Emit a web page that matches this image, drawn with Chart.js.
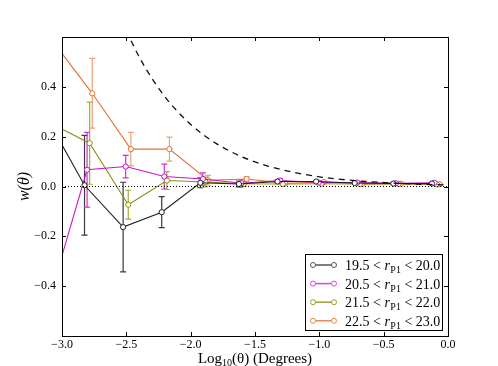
<!DOCTYPE html>
<html lang="en">
  <head>
    <meta charset="UTF-8" />
    <title>w(theta) by magnitude bin</title>
    <script src="https://cdn.jsdelivr.net/npm/chart.js"></script>
    <style>
      body {
        margin: 0;
        background: #fff;
      }
      canvas {
        display: block;
      }
    </style>
  </head>
  <body>
    <canvas id="wtheta" width="498" height="366"></canvas>

    <script>
      // magnitude bins (legend)
      const binLo = ['19.5', '20.5', '21.5', '22.5'];
      const binHi = ['20.0', '21.0', '22.0', '23.0'];

      // log10(theta) positions per bin (bins are offset slightly)
      const xBin1 = [-3.125, -2.825, -2.525, -2.225, -1.925, -1.625, -1.325, -1.025, -0.725, -0.425, -0.125];
      const xBin2 = [-3.105, -2.805, -2.505, -2.205, -1.905, -1.605, -1.305, -1.005, -0.705, -0.405, -0.105];
      const xBin3 = [-3.085, -2.785, -2.485, -2.185, -1.885, -1.585, -1.285, -0.985, -0.685, -0.385, -0.085];
      const xBin4 = [-3.065, -2.765, -2.465, -2.165, -1.865, -1.565, -1.265, -0.965, -0.665, -0.365, -0.065];

      // w(theta) values
      const wBin1 = [0.282, 0.005, -0.163, -0.103, 0.015, 0.01, 0.02, 0.02, 0.014, 0.012, 0.012];
      const wBin2 = [-0.463, 0.067, 0.08, 0.04, 0.03, 0.013, 0.024, 0.016, 0.016, 0.013, 0.015];
      const wBin3 = [0.253, 0.174, -0.073, 0.024, 0.018, 0.011, 0.01, 0.011, 0.01, 0.01, 0.008];
      const wBin4 = [0.578, 0.374, 0.15, 0.15, 0.025, 0.03, 0.013, 0.018, 0.01, 0.011, 0.009];

      // 1-sigma errors
      const eBin1 = [0.2, 0.2, 0.18, 0.062, 0.02, 0.012, 0.006, 0.004, 0.003, 0.003, 0.002];
      const eBin2 = [0.2, 0.15, 0.045, 0.05, 0.025, 0.015, 0.008, 0.005, 0.004, 0.003, 0.002];
      const eBin3 = [0.2, 0.165, 0.058, 0.036, 0.02, 0.01, 0.006, 0.004, 0.003, 0.002, 0.002];
      const eBin4 = [0.2, 0.14, 0.067, 0.048, 0.02, 0.01, 0.006, 0.004, 0.003, 0.002, 0.002];

      // dashed reference curve
      const modelX = [-2.5, -2.4, -2.3, -2.2, -2.1, -2.0, -1.9, -1.8, -1.7, -1.6, -1.5, -1.4, -1.2, -1.0, -0.8, -0.6, -0.4, -0.2, 0.0];
      const modelY = [0.625, 0.52, 0.433, 0.36, 0.3, 0.249, 0.207, 0.172, 0.143, 0.119, 0.099, 0.082, 0.057, 0.039, 0.027, 0.019, 0.013, 0.009, 0.006];

      const xTicks = [-3.0, -2.5, -2.0, -1.5, -1.0, -0.5, 0.0];
      const yTicks = [-0.4, -0.2, 0.0, 0.2, 0.4];

      const lineColors = ['#1e1e1e', '#cc11cc', '#8e8e10', '#e07430'];
      const barColors = ['#3a3a3a', '#d030d0', '#a8a838', '#eea070'];
      const legendColors = ['#555555', '#dd44dd', '#a0a030', '#e88850'];

      const xs = [xBin1, xBin2, xBin3, xBin4];
      const ws = [wBin1, wBin2, wBin3, wBin4];
      const es = [eBin1, eBin2, eBin3, eBin4];

      const pts = (x, y) => x.map((v, i) => ({ x: v, y: y[i] }));
      const SERIF = '"Liberation Serif", "DejaVu Serif", serif';
      const fmt = (v) => v.toFixed(1).replace('-', '\u2212');

      const datasets = [
        {
          data: [{ x: -3, y: 0 }, { x: 0, y: 0 }],
          borderColor: '#000',
          borderWidth: 1,
          borderDash: [1, 2],
          pointRadius: 0,
          showLine: true,
        },
        {
          data: pts(modelX, modelY),
          borderColor: '#111',
          borderWidth: 1.3,
          borderDash: [6, 5],
          pointRadius: 0,
          showLine: true,
          cubicInterpolationMode: 'monotone',
        },
      ];
      xs.forEach((x, k) => {
        datasets.push({
          data: pts(x, ws[k]),
          errors: es[k],
          barColor: barColors[k],
          borderColor: lineColors[k],
          borderWidth: 1.1,
          pointRadius: 2.6,
          pointBorderWidth: 1,
          pointBackgroundColor: '#fff',
          pointBorderColor: lineColors[k],
          showLine: true,
        });
      });

      // vertical error bars with caps
      const errorBars = {
        id: 'errorBars',
        beforeDatasetsDraw(chart) {
          const { ctx, chartArea: a, scales } = chart;
          ctx.save();
          ctx.beginPath();
          ctx.rect(a.left, a.top, a.right - a.left, a.bottom - a.top);
          ctx.clip();
          chart.data.datasets.forEach((ds) => {
            if (!ds.errors) return;
            ctx.strokeStyle = ds.barColor;
            ctx.lineWidth = 1.2;
            ds.data.forEach((p, i) => {
              const px = scales.x.getPixelForValue(p.x);
              const y1 = scales.y.getPixelForValue(p.y + ds.errors[i]);
              const y2 = scales.y.getPixelForValue(p.y - ds.errors[i]);
              ctx.beginPath();
              ctx.moveTo(px, y1);
              ctx.lineTo(px, y2);
              ctx.moveTo(px - 3, y1);
              ctx.lineTo(px + 3, y1);
              ctx.moveTo(px - 3, y2);
              ctx.lineTo(px + 3, y2);
              ctx.stroke();
            });
          });
          ctx.restore();
        },
      };

      // frame, inward ticks, tick labels, axis titles and legend
      const decorations = {
        id: 'decorations',
        afterDraw(chart) {
          const { ctx, chartArea: a, scales } = chart;
          ctx.save();
          ctx.strokeStyle = '#000';
          ctx.lineWidth = 1;
          ctx.strokeRect(a.left + 0.5, a.top + 0.5, a.right - a.left, a.bottom - a.top);

          ctx.beginPath();
          xTicks.forEach((v) => {
            const px = Math.round(scales.x.getPixelForValue(v)) + 0.5;
            ctx.moveTo(px, a.bottom);
            ctx.lineTo(px, a.bottom - 4);
            ctx.moveTo(px, a.top);
            ctx.lineTo(px, a.top + 4);
          });
          yTicks.forEach((v) => {
            const py = Math.round(scales.y.getPixelForValue(v)) + 0.5;
            ctx.moveTo(a.left, py);
            ctx.lineTo(a.left + 4, py);
            ctx.moveTo(a.right, py);
            ctx.lineTo(a.right - 4, py);
          });
          ctx.stroke();

          // tick labels
          ctx.fillStyle = '#000';
          ctx.font = '12px ' + SERIF;
          ctx.textBaseline = 'middle';
          ctx.textAlign = 'center';
          xTicks.forEach((v) => {
            ctx.fillText(fmt(v), scales.x.getPixelForValue(v), a.bottom + 9);
          });
          ctx.textAlign = 'right';
          yTicks.forEach((v) => {
            ctx.fillText(fmt(v), a.left - 6, scales.y.getPixelForValue(v));
          });
          ctx.textAlign = 'left';

          // x title: Log10(θ) (Degrees)
          ctx.textBaseline = 'alphabetic';
          ctx.font = '15px ' + SERIF;
          const w1 = ctx.measureText('Log').width;
          ctx.font = '10px ' + SERIF;
          const w2 = ctx.measureText('10').width;
          ctx.font = '15px ' + SERIF;
          const w3 = ctx.measureText('(\u03b8) (Degrees)').width;
          const tx = (a.left + a.right) / 2 - (w1 + w2 + w3) / 2;
          const ty = 363;
          ctx.fillText('Log', tx, ty);
          ctx.font = '10px ' + SERIF;
          ctx.fillText('10', tx + w1, ty + 3);
          ctx.font = '15px ' + SERIF;
          ctx.fillText('(\u03b8) (Degrees)', tx + w1 + w2, ty);

          // y title: w(θ)
          ctx.save();
          ctx.translate(29, (a.top + a.bottom) / 2);
          ctx.rotate(-Math.PI / 2);
          ctx.textAlign = 'center';
          ctx.font = 'italic 16px ' + SERIF;
          ctx.fillText('w(\u03b8)', 0, 0);
          ctx.restore();

          // legend
          const bx = 305, by = 254, bw = 137, bh = 76;
          ctx.fillStyle = '#fff';
          ctx.fillRect(bx, by, bw, bh);
          ctx.strokeStyle = '#000';
          ctx.strokeRect(bx + 0.5, by + 0.5, bw, bh);
          binLo.forEach((lo, k) => {
            const ry = by + 11 + k * 18.6;
            ctx.strokeStyle = legendColors[k];
            ctx.lineWidth = 1.5;
            ctx.beginPath();
            ctx.moveTo(313, ry);
            ctx.lineTo(334, ry);
            ctx.stroke();
            ctx.lineWidth = 1;
            [313, 334].forEach((cx) => {
              ctx.beginPath();
              ctx.arc(cx, ry, 2.5, 0, Math.PI * 2);
              ctx.fillStyle = '#fff';
              ctx.fill();
              ctx.stroke();
            });
            ctx.fillStyle = '#000';
            let lx = 345;
            const ly = ry + 5;
            ctx.font = '14px ' + SERIF;
            const s1 = lo + ' < ';
            ctx.fillText(s1, lx, ly);
            lx += ctx.measureText(s1).width;
            ctx.font = 'italic 14px ' + SERIF;
            ctx.fillText('r', lx, ly);
            lx += ctx.measureText('r').width + 0.5;
            ctx.font = '10px ' + SERIF;
            ctx.fillText('P1', lx, ly + 3);
            lx += ctx.measureText('P1').width;
            ctx.font = '14px ' + SERIF;
            ctx.fillText(' < ' + binHi[k], lx, ly);
          });
          ctx.restore();
        },
      };

      new Chart(document.getElementById('wtheta').getContext('2d'), {
        type: 'scatter',
        data: { datasets },
        plugins: [errorBars, decorations],
        options: {
          responsive: false,
          devicePixelRatio: 1,
          animation: false,
          layout: { padding: { top: 37, right: 50, left: 0, bottom: 0 } },
          plugins: { legend: { display: false }, tooltip: { enabled: false } },
          scales: {
            x: {
              type: 'linear',
              min: -3,
              max: 0,
              grid: { display: false },
              border: { display: false },
              ticks: { display: false, stepSize: 0.5 },
              afterFit: (s) => {
                s.height = 30;
              },
            },
            y: {
              min: -0.6,
              max: 0.6,
              grid: { display: false },
              border: { display: false },
              ticks: { display: false, stepSize: 0.2 },
              afterFit: (s) => {
                s.width = 62;
              },
            },
          },
        },
      });
    </script>
  </body>
</html>
